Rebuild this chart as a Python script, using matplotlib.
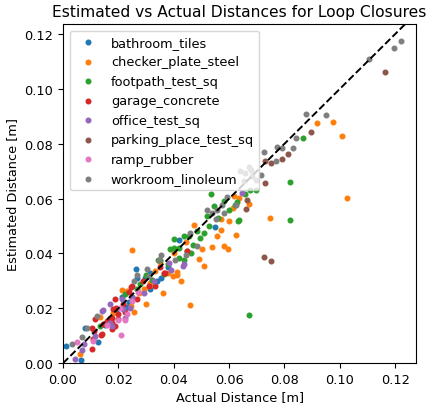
import matplotlib
matplotlib.use("Agg")
import matplotlib.pyplot as plt

plt.rcParams["font.size"] = 9.3

# Datos (actual, estimado) por superficie
bathroom_x = [0.0011, 0.0064, 0.0080, 0.0126, 0.0152, 0.0190, 0.0213, 0.0240, 0.0265, 0.0267,
              0.0297, 0.0315, 0.0315, 0.0340, 0.0355, 0.0380, 0.0420, 0.0548, 0.0230, 0.0175]
bathroom_y = [0.0061, 0.0011, 0.0130, 0.0077, 0.0140, 0.0185, 0.0240, 0.0222, 0.0342, 0.0312,
              0.0312, 0.0330, 0.0269, 0.0300, 0.0312, 0.0350, 0.0448, 0.0497, 0.0205, 0.0150]

checker_x = [0.1026, 0.1008, 0.0975, 0.0918, 0.0748, 0.0624, 0.0597, 0.0249, 0.0361, 0.0460,
             0.0539, 0.0508, 0.0493, 0.0426, 0.0412, 0.0396, 0.0502, 0.0571, 0.0569, 0.0472,
             0.0599, 0.0557, 0.0583, 0.0617, 0.0635, 0.0614, 0.0671, 0.0333, 0.0315, 0.0309,
             0.0291, 0.0213, 0.0301, 0.0255, 0.0182, 0.0134, 0.0062, 0.0350, 0.0380, 0.0231,
             0.0275, 0.0445, 0.0400, 0.0160, 0.0245, 0.0412]
checker_y = [0.0602, 0.0828, 0.0879, 0.0875, 0.0530, 0.0467, 0.0417, 0.0411, 0.0255, 0.0211,
             0.0424, 0.0356, 0.0380, 0.0299, 0.0320, 0.0318, 0.0415, 0.0485, 0.0524, 0.0505,
             0.0517, 0.0463, 0.0427, 0.0611, 0.0602, 0.0566, 0.0581, 0.0336, 0.0293, 0.0281,
             0.0269, 0.0265, 0.0217, 0.0187, 0.0184, 0.0170, 0.0033, 0.0370, 0.0330, 0.0263,
             0.0255, 0.0440, 0.0400, 0.0150, 0.0210, 0.0332]

footpath_x = [0.0536, 0.0633, 0.0545, 0.0521, 0.0527, 0.0511, 0.0484, 0.0496, 0.0454, 0.0436,
              0.0400, 0.0388, 0.0418, 0.0448, 0.0463, 0.0418, 0.0436, 0.0351, 0.0343, 0.0364,
              0.0321, 0.0279, 0.0267, 0.0225, 0.0134, 0.0622, 0.0630, 0.0659, 0.0674, 0.0698,
              0.0868, 0.0821, 0.0820, 0.0634, 0.0673, 0.0400, 0.0580, 0.0560, 0.0600, 0.0300,
              0.0250, 0.0380, 0.0470]
footpath_y = [0.0617, 0.0520, 0.0572, 0.0536, 0.0499, 0.0475, 0.0481, 0.0457, 0.0463, 0.0463,
              0.0451, 0.0415, 0.0421, 0.0409, 0.0402, 0.0384, 0.0378, 0.0378, 0.0376, 0.0324,
              0.0305, 0.0287, 0.0269, 0.0253, 0.0136, 0.0577, 0.0587, 0.0617, 0.0633, 0.0633,
              0.0822, 0.0660, 0.0523, 0.0523, 0.0176, 0.0421, 0.0590, 0.0530, 0.0560, 0.0320,
              0.0240, 0.0360, 0.0430]

garage_x = [0.0370, 0.0333, 0.0246, 0.0267, 0.0188, 0.0225, 0.0200, 0.0176, 0.0176, 0.0188,
            0.0176, 0.0146, 0.0138, 0.0104, 0.0113, 0.0110, 0.0104, 0.0116, 0.0158, 0.0170,
            0.0190, 0.0240, 0.0215, 0.0290, 0.0310, 0.0140, 0.0200, 0.0350, 0.0364, 0.0249,
            0.0182, 0.0448]
garage_y = [0.0327, 0.0281, 0.0277, 0.0233, 0.0233, 0.0187, 0.0178, 0.0166, 0.0148, 0.0136,
            0.0124, 0.0142, 0.0103, 0.0130, 0.0118, 0.0087, 0.0053, 0.0160, 0.0154, 0.0166,
            0.0200, 0.0260, 0.0215, 0.0300, 0.0280, 0.0105, 0.0160, 0.0350, 0.0330, 0.0281,
            0.0196, 0.0410]

office_x = [0.0043, 0.0068, 0.0074, 0.0115, 0.0140, 0.0145, 0.0170, 0.0170, 0.0176, 0.0213,
            0.0225, 0.0243, 0.0291, 0.0391, 0.0434, 0.0647, 0.0250, 0.0330, 0.0382, 0.0436,
            0.0218]
office_y = [0.0015, 0.0048, 0.0069, 0.0099, 0.0190, 0.0195, 0.0148, 0.0215, 0.0136, 0.0233,
            0.0166, 0.0203, 0.0255, 0.0338, 0.0356, 0.0621, 0.0240, 0.0300, 0.0366, 0.0360,
            0.0196]

parking_x = [0.1164, 0.0896, 0.0812, 0.0791, 0.0750, 0.0731, 0.0728, 0.0727, 0.0752, 0.0663,
             0.0662]
parking_y = [0.1062, 0.0844, 0.0764, 0.0744, 0.0730, 0.0736, 0.0657, 0.0388, 0.0371, 0.0596,
             0.0563]

ramp_x = [0.0050, 0.0110, 0.0207, 0.0200, 0.0225, 0.0210, 0.0249, 0.0160, 0.0270, 0.0230]
ramp_y = [0.0077, 0.0081, 0.0203, 0.0158, 0.0158, 0.0103, 0.0227, 0.0140, 0.0260, 0.0180]

workroom_x = [0.1221, 0.1194, 0.1104, 0.0877, 0.0949, 0.0842, 0.0832, 0.0774, 0.0792, 0.0771,
              0.0727, 0.0715, 0.0593, 0.0626, 0.0575, 0.0557, 0.0521, 0.0539, 0.0581, 0.0551,
              0.0484, 0.0446, 0.0406, 0.0354, 0.0303, 0.0309, 0.0269, 0.0255, 0.0124, 0.0086,
              0.0068, 0.0032, 0.0671, 0.0678, 0.0659, 0.0684, 0.0653, 0.0696, 0.0640, 0.0460,
              0.0345]
workroom_y = [0.1175, 0.1150, 0.1108, 0.0910, 0.0905, 0.0822, 0.0784, 0.0789, 0.0785, 0.0736,
              0.0770, 0.0687, 0.0606, 0.0578, 0.0578, 0.0560, 0.0560, 0.0548, 0.0548, 0.0524,
              0.0427, 0.0396, 0.0378, 0.0393, 0.0342, 0.0318, 0.0320, 0.0299, 0.0172, 0.0130,
              0.0096, 0.0069, 0.0717, 0.0705, 0.0693, 0.0681, 0.0663, 0.0669, 0.0700, 0.0475,
              0.0378]

series = [
    ("bathroom_tiles", bathroom_x, bathroom_y),
    ("checker_plate_steel", checker_x, checker_y),
    ("footpath_test_sq", footpath_x, footpath_y),
    ("garage_concrete", garage_x, garage_y),
    ("office_test_sq", office_x, office_y),
    ("parking_place_test_sq", parking_x, parking_y),
    ("ramp_rubber", ramp_x, ramp_y),
    ("workroom_linoleum", workroom_x, workroom_y),
]

fig = plt.figure(figsize=(4.26, 4.06), dpi=100)
ax = fig.add_axes([0.148, 0.103, 0.829, 0.835])

for name, xs, ys in series:
    ax.scatter(xs, ys, s=11, label=name)

ax.plot([0, 0.13], [0, 0.13], "k--", lw=1.4)

ax.set_xlim(0, 0.1276)
ax.set_ylim(0, 0.1236)
ax.set_xticks([0.0, 0.02, 0.04, 0.06, 0.08, 0.10, 0.12])
ax.set_yticks([0.0, 0.02, 0.04, 0.06, 0.08, 0.10, 0.12])
ax.set_xlabel("Actual Distance [m]", labelpad=3)
ax.set_ylabel("Estimated Distance [m]")
ax.set_title("Estimated vs Actual Distances for Loop Closures", fontsize=11.2)
ax.legend(loc="upper left")

fig.savefig("out.png", dpi=100)
